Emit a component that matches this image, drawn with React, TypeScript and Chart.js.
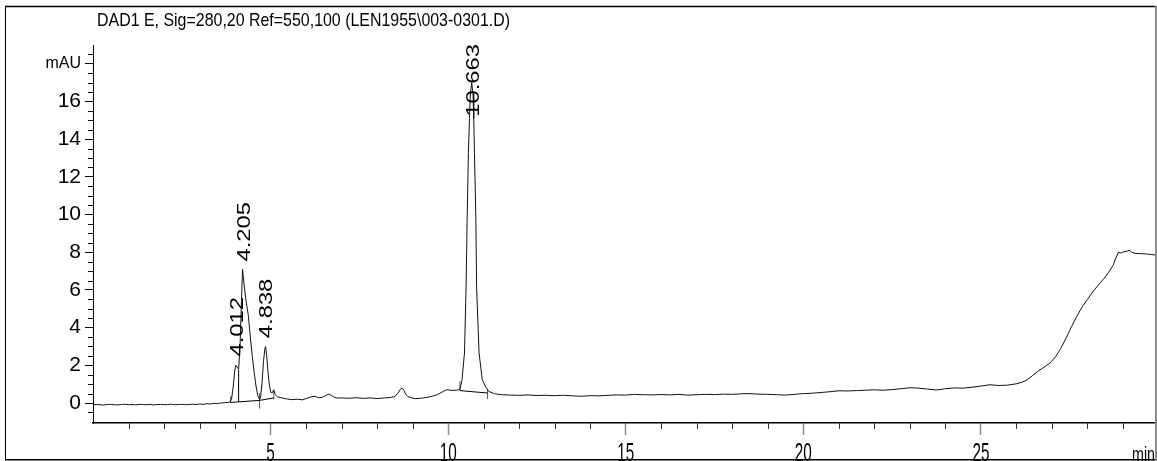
import React, { useEffect, useRef } from 'react';
import { Chart, registerables } from 'chart.js';

Chart.register(...registerables);

const FONT = '"Liberation Sans", Arial, sans-serif';
const TITLE = 'DAD1 E, Sig=280,20 Ref=550,100 (LEN1955\\003-0301.D)';
const X_UNIT = 'min';

// Chromatogram trace (retention time in min, signal in mAU)
const times = [
  0.0, 0.1, 0.2, 0.3, 0.4, 0.5, 0.6, 0.7, 0.8, 0.9, 1.0, 1.1, 1.2, 1.3, 1.4, 1.5, 1.6, 1.7, 1.8, 1.9,
  2.0, 2.1, 2.2, 2.3, 2.4, 2.5, 2.6, 2.7, 2.8, 2.9, 3.0, 3.1, 3.2, 3.3, 3.4, 3.5, 3.6, 3.7, 3.8, 3.85,
  3.9, 3.95, 3.99, 4.02, 4.06, 4.1, 4.14, 4.18, 4.21, 4.26, 4.31, 4.37, 4.43,
  4.49, 4.54, 4.59, 4.64, 4.69, 4.72, 4.76, 4.8, 4.84, 4.86, 4.89, 4.93, 4.97, 5.01, 5.05, 5.09, 5.13, 5.2, 5.3, 5.45,
  5.6, 5.75, 5.9, 6.05, 6.15, 6.25, 6.35, 6.45, 6.55, 6.65, 6.75, 6.85, 7.0, 7.2, 7.4, 7.6, 7.8, 8.0, 8.2, 8.4,
  8.5, 8.58, 8.65, 8.7, 8.75, 8.8, 8.86, 8.95, 9.08, 9.25, 9.41, 9.55, 9.69, 9.8, 9.9, 9.97, 10.06, 10.16, 10.26, 10.33,
  10.39, 10.46, 10.505, 10.535, 10.57, 10.6, 10.625, 10.663, 10.7, 10.72, 10.74, 10.78, 10.8, 10.87, 10.96, 11.05, 11.14, 11.3,
  11.5, 11.75, 12.0, 12.25, 12.5, 12.75, 13.0, 13.25, 13.5, 13.75, 14.0, 14.25, 14.5, 14.75, 15.0, 15.25, 15.5, 15.75, 16.0, 16.25,
  16.5, 16.75, 17.0, 17.25, 17.5, 17.75, 18.0, 18.25, 18.5, 18.75, 19.0, 19.25, 19.5, 19.75, 20.0, 20.25, 20.5, 20.75, 21.0, 21.25,
  21.5, 21.75, 22.0, 22.25, 22.5, 22.75, 23.0, 23.25, 23.5, 23.75, 24.0, 24.25, 24.5, 24.75, 25.0, 25.25, 25.5, 25.75, 26.0, 26.15,
  26.3, 26.45, 26.6, 26.8, 26.95, 27.1, 27.25, 27.4, 27.55, 27.7, 27.85, 28.0, 28.15, 28.3, 28.45, 28.6, 28.72, 28.8, 28.87, 28.95,
  29.01, 29.1, 29.17, 29.25, 29.34, 29.45, 29.57, 29.7, 29.8, 29.93,
];
const signal = [
  -0.1, -0.08, -0.09, -0.11, -0.08, -0.07, -0.09, -0.1, -0.08, -0.06, -0.09, -0.08, -0.1, -0.07, -0.08, -0.09, -0.07, -0.1, -0.08, -0.07,
  -0.09, -0.08, -0.06, -0.09, -0.08, -0.07, -0.09, -0.08, -0.06, -0.08, -0.05, -0.07, -0.04, -0.05, -0.01, -0.03, 0.0, 0.02, 0.03, 0.05,
  0.2, 0.9, 1.7, 2.0, 1.9, 1.8, 3.0, 5.4, 7.1, 6.2, 5.4, 4.7, 3.5,
  2.4, 1.6, 0.9, 0.4, 0.18, 0.3, 1.1, 2.2, 2.9, 3.0, 2.5, 1.6, 0.9, 0.55, 0.55, 0.7, 0.45, 0.32, 0.28, 0.22,
  0.18, 0.2, 0.17, 0.27, 0.33, 0.36, 0.28, 0.3, 0.4, 0.48, 0.35, 0.27, 0.27, 0.25, 0.28, 0.25, 0.27, 0.24, 0.27, 0.3,
  0.35, 0.5, 0.72, 0.8, 0.68, 0.48, 0.35, 0.28, 0.23, 0.26, 0.3, 0.36, 0.44, 0.55, 0.66, 0.71, 0.68, 0.67, 0.69, 0.71,
  1.24, 2.66, 6.2, 9.8, 13.3, 15.1, 16.4, 17.0, 16.4, 15.1, 13.3, 9.8, 6.2, 2.66, 1.24, 0.88, 0.62, 0.5,
  0.44, 0.42, 0.41, 0.43, 0.4, 0.41, 0.39, 0.41, 0.38, 0.36, 0.39, 0.38, 0.41, 0.43, 0.42, 0.46, 0.44, 0.43, 0.45, 0.43,
  0.46, 0.42, 0.44, 0.46, 0.45, 0.47, 0.46, 0.49, 0.5, 0.47, 0.46, 0.44, 0.42, 0.46, 0.5, 0.52, 0.56, 0.6, 0.65, 0.64,
  0.66, 0.68, 0.7, 0.68, 0.71, 0.76, 0.81, 0.79, 0.74, 0.69, 0.76, 0.8, 0.79, 0.84, 0.9, 0.97, 0.93, 0.95, 1.02, 1.1,
  1.22, 1.45, 1.68, 1.93, 2.13, 2.45, 2.9, 3.45, 4.05, 4.6, 5.1, 5.5, 5.9, 6.25, 6.57, 6.95, 7.3, 7.7, 7.99, 7.96,
  8.02, 8.05, 8.11, 8.0, 7.94, 7.93, 7.92, 7.9, 7.88, 7.85,
];

// Peak annotations
const peakRT = [4.012, 4.205, 4.838, 10.663];
const peakLabelBase = [2.47, 7.51, 3.44, 15.19];

// Integration baselines (null breaks the line)
const baselineT = [3.875, 4.69, 5.09, null, 10.33, 11.11];
const baselineV = [0.03, 0.14, 0.27, null, 0.66, 0.53];
const dropT = [4.1, 4.1];
const dropV = [0.08, 1.78];
const markerT = [3.875, 4.69, 5.09, 10.33, 11.11];
const markerTop = [0.35, 0.53, 0.7, 1.15, 0.71];
const markerBottom = [0.0, -0.3, 0.18, 0.67, 0.21];

// Axes
const X_MIN = 0;
const X_MAX = 29.93;
const Y_MIN = -1.06;
const Y_MAX = 19.0;
const xTicks = [5, 10, 15, 20, 25];
const xTickLabels = ['5', '10', '15', '20', '25'];
const xMinorTicks = [1, 2, 3, 4, 6, 7, 8, 9, 11, 12, 13, 14, 16, 17, 18, 19, 21, 22, 23, 24, 26, 27, 28, 29];
const yTicks = [0, 2, 4, 6, 8, 10, 12, 14, 16, 18];
const yTickLabels = ['0', '2', '4', '6', '8', '10', '12', '14', '16', 'mAU'];
const yMinorTicks = [
  -0.5, 0.5, 1, 1.5, 2.5, 3, 3.5, 4.5, 5, 5.5, 6.5, 7, 7.5, 8.5, 9, 9.5, 10.5, 11, 11.5, 12.5, 13, 13.5,
  14.5, 15, 15.5, 16.5, 17, 17.5, 18.5,
];

function fitText(
  ctx: CanvasRenderingContext2D,
  text: string,
  x: number,
  y: number,
  size: number,
  sx: number,
  align: CanvasTextAlign,
  rotate: boolean,
) {
  ctx.save();
  ctx.font = `${size}px ${FONT}`;
  ctx.fillStyle = '#000';
  ctx.textAlign = align;
  ctx.textBaseline = 'alphabetic';
  ctx.translate(x, y);
  if (rotate) ctx.rotate(-Math.PI / 2);
  ctx.scale(sx, 1);
  ctx.fillText(text, 0, 0);
  ctx.restore();
}

function widthScale(ctx: CanvasRenderingContext2D, text: string, size: number, target: number) {
  ctx.save();
  ctx.font = `${size}px ${FONT}`;
  const w = ctx.measureText(text).width;
  ctx.restore();
  return target / w;
}

const decorPlugin = {
  id: 'decor',
  afterDraw(chart: any) {
    const ctx: CanvasRenderingContext2D = chart.ctx;
    const xs = chart.scales.x;
    const ys = chart.scales.y;
    const area = chart.chartArea;

    // minor ticks
    ctx.save();
    ctx.strokeStyle = '#000';
    ctx.lineWidth = 1;
    ctx.beginPath();
    yMinorTicks.forEach((v) => {
      const py = Math.round(ys.getPixelForValue(v)) + 0.5;
      ctx.moveTo(area.left - 5, py);
      ctx.lineTo(area.left, py);
    });
    ctx.stroke();
    ctx.strokeStyle = '#333';
    ctx.beginPath();
    xMinorTicks.forEach((v) => {
      const px = Math.round(xs.getPixelForValue(v)) + 0.5;
      ctx.moveTo(px, area.bottom);
      ctx.lineTo(px, area.bottom + 6);
    });
    ctx.stroke();
    ctx.restore();

    // title
    const ts = widthScale(ctx, TITLE, 19, 413);
    fitText(ctx, TITLE, 97, 25.5, 19, ts, 'left', false);

    // x tick labels
    xTicks.forEach((v, i) => {
      const label = xTickLabels[i];
      const s = widthScale(ctx, label, 26, 8.5 * label.length);
      fitText(ctx, label, xs.getPixelForValue(v), 461, 26, s, 'center', false);
    });
    const ms = widthScale(ctx, X_UNIT, 21, 23);
    fitText(ctx, X_UNIT, 1155, 460.5, 21, ms, 'right', false);

    // peak labels
    peakRT.forEach((rt, i) => {
      const label = rt.toFixed(3);
      const px = xs.getPixelForValue(rt) + 7.6;
      const py = ys.getPixelForValue(peakLabelBase[i]);
      fitText(ctx, label, px, py, 18.6, 1.28, 'left', true);
    });

    // outer frame
    ctx.save();
    ctx.strokeStyle = '#000';
    ctx.lineWidth = 1;
    ctx.beginPath();
    ctx.moveTo(5.5, 6);
    ctx.lineTo(5.5, 460);
    ctx.stroke();
    ctx.lineWidth = 1.5;
    ctx.beginPath();
    ctx.moveTo(5, 6.5);
    ctx.lineTo(1156, 6.5);
    ctx.moveTo(5, 459.8);
    ctx.lineTo(1156, 459.8);
    ctx.stroke();
    ctx.strokeStyle = '#8a8a8a';
    ctx.lineWidth = 2;
    ctx.beginPath();
    ctx.moveTo(1156, 6);
    ctx.lineTo(1156, 461);
    ctx.stroke();
    ctx.restore();
  },
};

function toPoints(t: (number | null)[], v: (number | null)[]) {
  return t.map((tt, i) => ({ x: tt === null ? NaN : tt, y: v[i] }));
}

export default function App() {
  const canvasRef = useRef<HTMLCanvasElement | null>(null);

  useEffect(() => {
    document.body.style.margin = '0';
    const canvas = canvasRef.current;
    if (!canvas) return;

    const markerPts: { x: number; y: number | null }[] = [];
    markerT.forEach((t, i) => {
      markerPts.push({ x: t, y: markerBottom[i] });
      markerPts.push({ x: t, y: markerTop[i] });
      markerPts.push({ x: t, y: null });
    });

    const chart = new Chart(canvas, {
      type: 'line',
      data: {
        datasets: [
          {
            label: 'trace',
            data: toPoints(times, signal) as any,
            borderColor: '#111',
            borderWidth: 1,
            pointRadius: 0,
            tension: 0,
            fill: false,
          },
          {
            label: 'baseline',
            data: toPoints(baselineT, baselineV) as any,
            borderColor: '#000',
            borderWidth: 1,
            pointRadius: 0,
            spanGaps: false,
            fill: false,
          },
          {
            label: 'drop',
            data: toPoints(dropT, dropV) as any,
            borderColor: '#000',
            borderWidth: 1,
            pointRadius: 0,
            fill: false,
          },
          {
            label: 'markers',
            data: markerPts as any,
            borderColor: '#555',
            borderWidth: 1,
            pointRadius: 0,
            spanGaps: false,
            fill: false,
          },
        ],
      },
      options: {
        animation: false,
        responsive: false,
        maintainAspectRatio: false,
        layout: { padding: { left: 0, top: 45, right: 1, bottom: 0 } },
        plugins: {
          legend: { display: false },
          title: { display: false },
          tooltip: { enabled: false },
        },
        scales: {
          x: {
            type: 'linear',
            position: 'bottom',
            min: X_MIN,
            max: X_MAX,
            afterBuildTicks: (s: any) => {
              s.ticks = xTicks.map((value) => ({ value }));
            },
            afterFit: (s: any) => {
              s.height = 38;
            },
            ticks: { display: false },
            grid: {
              drawOnChartArea: false,
              drawTicks: true,
              tickLength: 12,
              tickColor: '#8c8c8c',
              tickWidth: 1.5,
            },
            border: { display: true, color: '#000', width: 1.5 },
          },
          y: {
            type: 'linear',
            position: 'left',
            min: Y_MIN,
            max: Y_MAX,
            afterBuildTicks: (s: any) => {
              s.ticks = yTicks.map((value) => ({ value }));
            },
            afterFit: (s: any) => {
              s.width = 93;
            },
            ticks: {
              color: '#000',
              padding: 4,
              autoSkip: false,
              callback: (_v: any, i: number) => yTickLabels[i],
              font: (c: any) =>
                c.tick && c.tick.value === 18
                  ? { family: FONT, size: 16 }
                  : { family: FONT, size: 21 },
            },
            grid: {
              drawOnChartArea: false,
              drawTicks: true,
              tickLength: 8,
              tickColor: '#000',
              tickWidth: 1,
            },
            border: { display: true, color: '#000', width: 1 },
          },
        },
      },
      plugins: [decorPlugin],
    });

    return () => chart.destroy();
  }, []);

  return (
    <div style={{ position: 'fixed', left: 0, top: 0, width: 1157, height: 461, background: '#fff' }}>
      <canvas ref={canvasRef} width={1157} height={461} style={{ width: 1157, height: 461, display: 'block' }} />
    </div>
  );
}
